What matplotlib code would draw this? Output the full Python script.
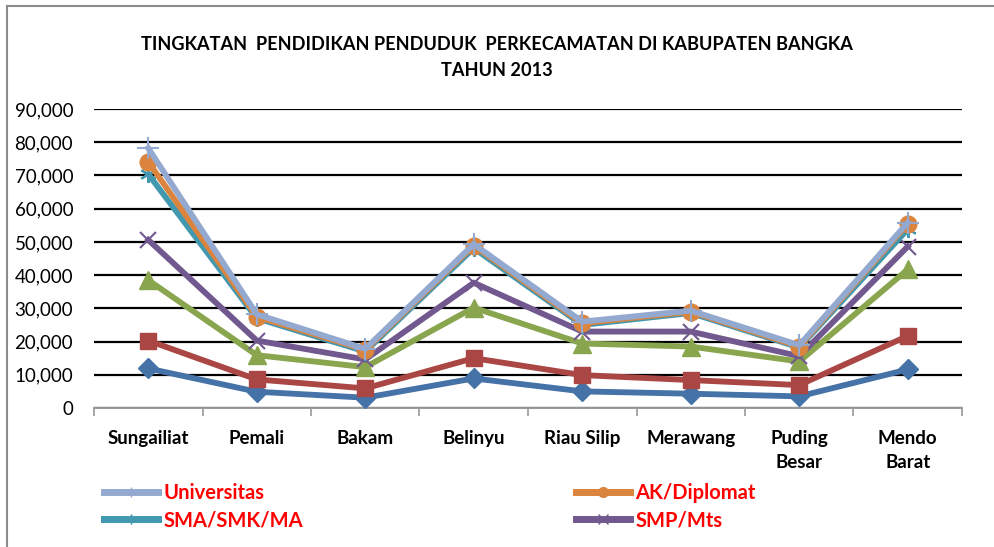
import matplotlib
matplotlib.use("Agg")
import matplotlib.pyplot as plt
from matplotlib.lines import Line2D

# ---------- data (values as drawn) ----------

kecamatan = ["Sungailiat", "Pemali", "Bakam", "Belinyu", "Riau Silip",
             "Merawang", "Puding\nBesar", "Mendo\nBarat"]

tidak_sekolah = [11900, 4900, 3100, 8900, 5000, 4300, 3500, 11600]
tidak_tamat_sd = [20300, 8600, 5900, 15000, 9900, 8400, 6900, 21700]
sd_mi = [38500, 15900, 12300, 30200, 19400, 18500, 14000, 41700]
smp_mts = [50600, 20300, 14600, 37700, 23000, 23000, 15600, 48600]
sma_smk_ma = [70400, 27000, 17000, 48100, 25000, 28600, 18200, 53800]
ak_diplomat = [74100, 27500, 17500, 48900, 25500, 29000, 18500, 55400]
universitas = [78200, 28200, 17800, 49300, 26000, 29300, 18900, 55800]

yticks = [0, 10000, 20000, 30000, 40000, 50000, 60000, 70000, 80000, 90000]

# ---------- styling ----------

FONT = "Lato"
plt.rcParams["font.family"] = [FONT, "DejaVu Sans"]

series = [
    # name, values, color, marker, size, mew
    ("Tidak/Belum Sekolah", tidak_sekolah, "#4572A7", "D", 10, 1),
    ("Tidak Tamat SD", tidak_tamat_sd, "#AA4643", "s", 12, 1),
    ("SD/MI", sd_mi, "#89A54E", "^", 13, 1),
    ("SMP/Mts", smp_mts, "#71588F", "x", 12, 1.5),
    ("SMA/SMK/MA", sma_smk_ma, "#4198AF", (6, 2, 0), 12, 1.5),
    ("AK/Diplomat", ak_diplomat, "#DB843D", "o", 12, 1),
    ("Universitas", universitas, "#93A9CF", "+", 16, 1.5),
]

fig = plt.figure(figsize=(9.94, 5.47), dpi=100)
ax = fig.add_axes([94 / 994, 1 - 408 / 547, (962 - 94) / 994, (408 - 109) / 547])

x = list(range(len(kecamatan)))
lines = {}
for name, vals, col, mk, ms, mew in series:
    ax.plot(x, vals, color=col, lw=4.2, marker=mk, markersize=ms,
            markeredgewidth=mew, markeredgecolor=col, markerfacecolor=col,
            solid_joinstyle="miter", zorder=3, clip_on=False)
    lines[name] = (col, mk)

ax.set_xlim(-0.5, len(kecamatan) - 0.5)
ax.set_ylim(0, 90000)
ax.set_yticks(yticks)
ax.set_yticklabels([f"{v:,}" for v in yticks], fontsize=13.5)
ax.yaxis.grid(True, color="black", lw=1.6, zorder=0)
ax.tick_params(axis="y", length=0, pad=15)

ax.set_xticks([i - 0.5 for i in range(len(kecamatan) + 1)], minor=False)
ax.set_xticklabels([])
ax.set_xticks(x, minor=True)
ax.set_xticklabels(kecamatan, minor=True, fontsize=13.5, fontweight="bold",
                   linespacing=1.45, va="top")
ax.tick_params(axis="x", which="major", length=6, color="#999999", width=1.2)
ax.tick_params(axis="x", which="minor", length=0, pad=16)

for s in ["top", "right", "left"]:
    ax.spines[s].set_visible(False)
ax.spines["bottom"].set_color("#999999")
ax.spines["bottom"].set_linewidth(1.4)
ax.set_axisbelow(True)

fig.text(0.5, 1 - 45 / 547,
         "TINGKATAN  PENDIDIKAN PENDUDUK  PERKECAMATAN DI KABUPATEN BANGKA",
         ha="center", va="center", fontsize=13.1, fontweight="bold")
fig.text(0.5, 1 - 71 / 547, "TAHUN 2013", ha="center", va="center",
         fontsize=13.1, fontweight="bold")

# chart frame (left and top edges visible)
fig.add_artist(Line2D([7 / 994, 7 / 994], [0, 1 - 6 / 547], color="#8c8c8c", lw=1.5))
fig.add_artist(Line2D([7 / 994, 1], [1 - 6 / 547, 1 - 6 / 547], color="#8c8c8c", lw=1.5))

# legend fills column-wise, so order gives rows: Universitas | AK/Diplomat, SMA | SMP
legend_names = ["Universitas", "SMA/SMK/MA", "AK/Diplomat", "SMP/Mts"]
handles = []
for nm in legend_names:
    col, mk = lines[nm]
    handles.append(Line2D([], [], color=col, lw=5, marker=mk, markersize=7,
                          markeredgecolor=col, markeredgewidth=1, markerfacecolor=col))
leg = fig.legend(handles, legend_names, loc="upper left",
                 bbox_to_anchor=(104 / 994, 1 - 483 / 547), ncol=2, frameon=False,
                 handlelength=2.7, handletextpad=0.25, columnspacing=13.55,
                 labelspacing=0.35, prop={"family": FONT, "weight": "bold", "size": 14.5},
                 borderaxespad=0, borderpad=0)
for t in leg.get_texts():
    t.set_color("#FF0000")

fig.savefig("out.png", dpi=100)
